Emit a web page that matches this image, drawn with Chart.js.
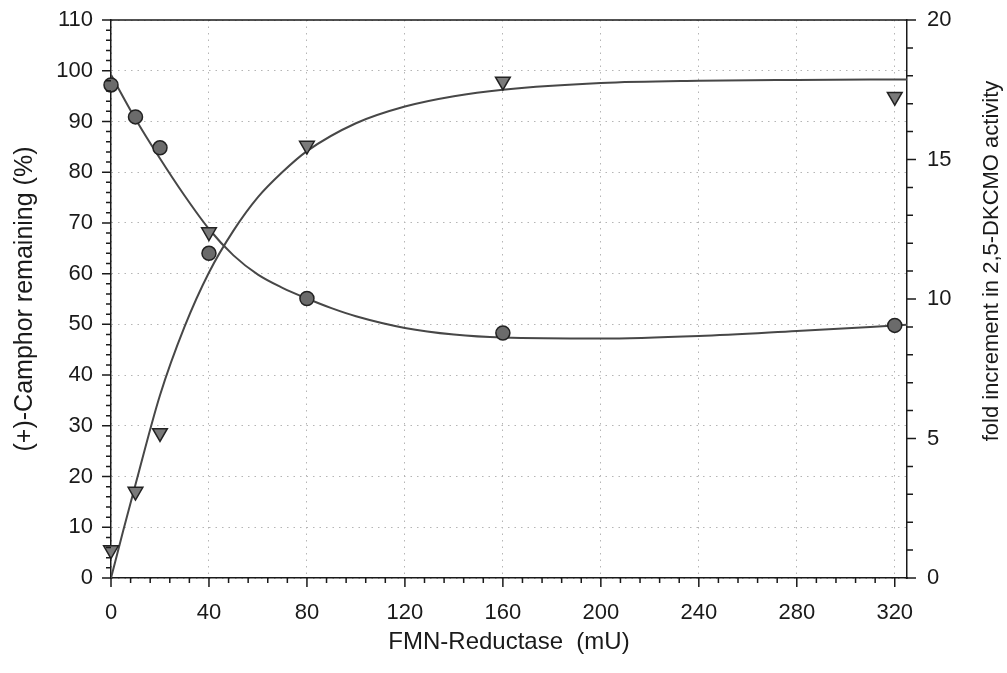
<!DOCTYPE html>
<html>
<head>
<meta charset="utf-8">
<title>Camphor / 2,5-DKCMO vs FMN-Reductase</title>
<script src="https://cdn.jsdelivr.net/npm/chart.js"></script>
<style>
    body { margin: 0; background: #fff; }
    #wrap { width: 1007px; height: 673px; }
</style>
</head>
<body>
<div id="wrap"><canvas id="c"></canvas></div>
<script>
// measured points
const doseX = [0, 10, 20, 40, 80, 160, 320];
const camphorPct = [97.2, 90.9, 84.8, 64.0, 55.1, 48.3, 49.8];
const foldIncr = [1.0, 3.1, 5.2, 12.4, 15.5, 17.8, 17.25];

// fitted curves
const camphorFitX = [0, 10, 20, 30, 40, 50, 60, 70, 80, 90, 100, 120, 140, 160, 200, 240, 280, 325];
const camphorFitY = [99.2, 90.5, 82.7, 75.4, 68.8, 63.6, 59.8, 57.2, 55.1, 53.2, 51.6, 49.3, 48.0, 47.4, 47.2, 47.7, 48.7, 49.9];
const foldFitX = [0, 5, 10, 20, 30, 40, 50, 60, 70, 80, 100, 120, 140, 160, 200, 240, 280, 325];
const foldFitY = [0, 1.7, 3.35, 6.55, 9.0, 10.95, 12.45, 13.65, 14.55, 15.3, 16.3, 16.9, 17.27, 17.5, 17.74, 17.82, 17.85, 17.87];

// axis ticks
const xTicks = [0, 40, 80, 120, 160, 200, 240, 280, 320];
const leftTicks = [0, 10, 20, 30, 40, 50, 60, 70, 80, 90, 100, 110];
const rightTicks = [0, 5, 10, 15, 20];
const xMinorStep = 8, leftMinorStep = 2, rightMinorStep = 1;

const FONT = "'Liberation Sans', Arial, Helvetica, sans-serif";
const INK = '#1a1a1a';
const GRID = '#b5b5b5';

function pts(xs, ys) { return xs.map((x, i) => ({x: x, y: ys[i]})); }
function steps(max, step) { const a = []; for (let v = 0; v <= max + 1e-9; v += step) a.push(v); return a; }
// fixed box sizes so the plot area lands where the original has it
function fixBox(s, w, h) {
    if (w) s.width = w;
    if (h) s.height = h;
    s.paddingTop = 0; s.paddingBottom = 0; s.paddingLeft = 0; s.paddingRight = 0;
}

// minor/major tick marks + top frame line + right title
const frame = {
    id: 'frame',
    afterDraw(chart) {
        const ctx = chart.ctx, a = chart.chartArea;
        const sx = chart.scales.x, sl = chart.scales.y, sr = chart.scales.y2;
        ctx.save();
        ctx.strokeStyle = INK;
        ctx.lineWidth = 1.5;
        ctx.beginPath();
        ctx.moveTo(a.left, a.top); ctx.lineTo(a.right, a.top);
        steps(320, xMinorStep).forEach(v => {
            const p = sx.getPixelForValue(v), len = xTicks.includes(v) ? 9 : 5;
            ctx.moveTo(p, a.bottom); ctx.lineTo(p, a.bottom + len);
        });
        steps(110, leftMinorStep).forEach(v => {
            const p = sl.getPixelForValue(v), len = leftTicks.includes(v) ? 9 : 5;
            ctx.moveTo(a.left, p); ctx.lineTo(a.left - len, p);
        });
        steps(20, rightMinorStep).forEach(v => {
            const p = sr.getPixelForValue(v), len = rightTicks.includes(v) ? 9 : 6;
            ctx.moveTo(a.right, p); ctx.lineTo(a.right + len, p);
        });
        ctx.stroke();

        // right axis title reads bottom-to-top
        ctx.translate(992, 261);
        ctx.rotate(-Math.PI / 2);
        ctx.fillStyle = INK;
        ctx.font = '22px ' + FONT;
        ctx.textAlign = 'center';
        ctx.textBaseline = 'middle';
        ctx.fillText('fold increment in 2,5-DKCMO activity', 0, 0);
        ctx.restore();
    }
};

new Chart(document.getElementById('c'), {
    type: 'scatter',
    data: {
        datasets: [
            {
                label: 'Camphor',
                data: pts(doseX, camphorPct),
                yAxisID: 'y',
                pointStyle: 'circle',
                pointRadius: 7,
                pointBackgroundColor: '#6b6b6b',
                pointBorderColor: '#222',
                pointBorderWidth: 1.5,
                clip: false
            },
            {
                label: 'Fold',
                data: pts(doseX, foldIncr),
                yAxisID: 'y2',
                pointStyle: 'triangle',
                rotation: 180,
                pointRadius: 8.5,
                pointBackgroundColor: '#7a7a7a',
                pointBorderColor: '#222',
                pointBorderWidth: 1.5,
                clip: false
            },
            {
                label: 'Camphor fit',
                data: pts(camphorFitX, camphorFitY),
                yAxisID: 'y',
                showLine: true,
                pointRadius: 0,
                borderColor: '#474747',
                borderWidth: 2,
                cubicInterpolationMode: 'monotone'
            },
            {
                label: 'Fold fit',
                data: pts(foldFitX, foldFitY),
                yAxisID: 'y2',
                showLine: true,
                pointRadius: 0,
                borderColor: '#474747',
                borderWidth: 2,
                cubicInterpolationMode: 'monotone'
            }
        ]
    },
    options: {
        responsive: true,
        maintainAspectRatio: false,
        animation: false,
        layout: { padding: { top: 20, left: 0, right: 0, bottom: 0 } },
        plugins: { legend: { display: false }, tooltip: { enabled: false } },
        scales: {
            x: {
                type: 'linear',
                min: 0, max: 325,
                afterBuildTicks: s => { s.ticks = xTicks.map(v => ({value: v})); },
                afterFit: s => fixBox(s, 0, 95),
                grid: { color: GRID, lineWidth: 1, drawTicks: false },
                border: { color: INK, width: 1.5, dash: [1.5, 5] },
                ticks: { color: INK, padding: 22, font: { family: FONT, size: 22 } },
                title: {
                    display: true,
                    text: 'FMN-Reductase  (mU)',
                    color: INK,
                    font: { family: FONT, size: 24, lineHeight: 1.2 },
                    padding: { top: 0, bottom: 16 }
                }
            },
            y: {
                position: 'left',
                min: 0, max: 110,
                afterBuildTicks: s => { s.ticks = leftTicks.map(v => ({value: v})); },
                afterFit: s => fixBox(s, 111, 0),
                grid: { color: GRID, lineWidth: 1, drawTicks: false },
                border: { color: INK, width: 1.5, dash: [1.5, 5] },
                ticks: { color: INK, padding: 18, font: { family: FONT, size: 22 } },
                title: {
                    display: true,
                    text: '(+)-Camphor remaining (%)',
                    color: INK,
                    font: { family: FONT, size: 25, lineHeight: 1.2 },
                    padding: { top: 10, bottom: 0 }
                }
            },
            y2: {
                position: 'right',
                min: 0, max: 20,
                afterBuildTicks: s => { s.ticks = rightTicks.map(v => ({value: v})); },
                afterFit: s => fixBox(s, 100, 0),
                grid: { display: true, drawOnChartArea: false, drawTicks: false },
                border: { color: INK, width: 1.5 },
                ticks: { color: INK, padding: 20, font: { family: FONT, size: 22 } }
            }
        }
    },
    plugins: [frame]
});
</script>
</body>
</html>
